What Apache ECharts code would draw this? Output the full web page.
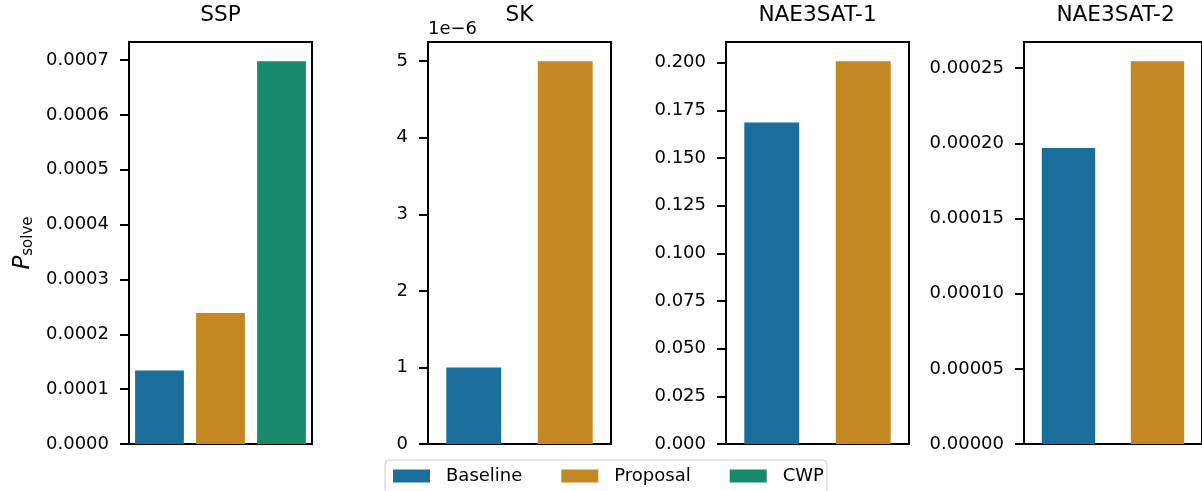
<!DOCTYPE html>
<html>
<head>
<meta charset="utf-8">
<title>P_solve by method</title>
<script src="https://cdn.jsdelivr.net/npm/echarts@6/dist/echarts.min.js"></script>
<style>
  html, body { margin: 0; padding: 0; background: #fff; }
  #chart { width: 1202px; height: 491px; }
</style>
</head>
<body>
<div id="chart"></div>
<script>
// Methods compared and their bar colours
const methods = ['Baseline', 'Proposal', 'CWP'];
const methodColors = ['#1a6e9c', '#c38822', '#178a6c'];

// Problem panels
const panelTitles = ['SSP', 'SK', 'NAE3SAT-1', 'NAE3SAT-2'];

// Success probability per method, one array per problem
const sspValues = [0.000134, 0.000239, 0.000698];
const skValues = [1e-6, 5e-6];
const nae1Values = [0.1686, 0.2008];
const nae2Values = [0.000197, 0.0002547];

// Y-axis tick values per panel
const sspTicks = [0, 0.0001, 0.0002, 0.0003, 0.0004, 0.0005, 0.0006, 0.0007];
const skTicks = [0, 1e-6, 2e-6, 3e-6, 4e-6, 5e-6];
const nae1Ticks = [0, 0.025, 0.05, 0.075, 0.1, 0.125, 0.15, 0.175, 0.2];
const nae2Ticks = [0, 0.00005, 0.0001, 0.00015, 0.0002, 0.00025];

const FONT = 'DejaVu Sans';

const panels = [
  { title: panelTitles[0], values: sspValues, ticks: sspTicks, fmt: v => v.toFixed(4), barWidth: '80%' },
  { title: panelTitles[1], values: skValues, ticks: skTicks, fmt: v => String(Math.round(v * 1e6)), barWidth: '60%', unit: '1e\u22126' },
  { title: panelTitles[2], values: nae1Values, ticks: nae1Ticks, fmt: v => v.toFixed(3), barWidth: '60%' },
  { title: panelTitles[3], values: nae2Values, ticks: nae2Ticks, fmt: v => v.toFixed(5), barWidth: '60%' }
];

const gridLeft = [129, 428, 726, 1024];
const gridWidth = 183;
const gridTop = 42;
const gridHeight = 402;

const grid = [], xAxis = [], yAxis = [], series = [], title = [];

panels.forEach((p, i) => {
  const cats = methods.slice(0, p.values.length);
  grid.push({
    left: gridLeft[i], top: gridTop, width: gridWidth, height: gridHeight,
    show: true, borderColor: '#000', borderWidth: 2, backgroundColor: 'transparent'
  });
  xAxis.push({
    type: 'category', gridIndex: i, data: cats, boundaryGap: true,
    axisLine: { show: false }, axisTick: { show: false }, axisLabel: { show: false },
    splitLine: { show: false }
  });
  yAxis.push({
    type: 'value', gridIndex: i, min: 0, max: Math.max(...p.values) * 1.05,
    axisLine: { show: false },
    splitLine: { show: false },
    axisTick: { show: true, length: 9, lineStyle: { color: '#000', width: 2 }, customValues: p.ticks },
    axisLabel: {
      show: true, margin: 20, color: '#000', fontFamily: FONT, fontSize: 18,
      customValues: p.ticks, formatter: v => p.fmt(v)
    },
    name: p.unit || '',
    nameLocation: 'end', nameGap: 4,
    nameTextStyle: { align: 'left', verticalAlign: 'bottom', fontFamily: FONT, fontSize: 18, color: '#000' }
  });
  title.push({
    text: p.title, left: gridLeft[i] + gridWidth / 2, top: 4, textAlign: 'center', padding: 0,
    textStyle: { fontFamily: FONT, fontSize: 21.6, fontWeight: 'normal', color: '#000' }
  });
  cats.forEach((m, k) => {
    const data = cats.map((c, j) => (j === k ? p.values[k] : '-'));
    series.push({
      type: 'bar', name: m, xAxisIndex: i, yAxisIndex: i, stack: 'panel' + i,
      barWidth: p.barWidth, data: data,
      itemStyle: { color: methodColors[k] },
      emphasis: { disabled: true }, animation: false
    });
  });
});

const chart = echarts.init(document.getElementById('chart'), null, { renderer: 'canvas' });
chart.setOption({
  animation: false,
  title: title,
  grid: grid,
  xAxis: xAxis,
  yAxis: yAxis,
  series: series,
  legend: {
    data: methods, left: 385, top: 460, orient: 'horizontal',
    icon: 'rect', itemWidth: 37, itemHeight: 13, itemGap: 39,
    padding: [7, 3, 12, 8],
    borderColor: '#cccccc', borderWidth: 1, borderRadius: 4, backgroundColor: '#fff',
    textStyle: { fontFamily: FONT, fontSize: 18, color: '#000', padding: [0, 0, 0, 11] },
    selectedMode: false
  },
  graphic: [{
    type: 'text', x: 23, y: 243, rotation: Math.PI / 2,
    style: {
      text: '{p|P}{s|solve}',
      align: 'center', verticalAlign: 'middle',
      rich: {
        p: { fontFamily: FONT, fontStyle: 'italic', fontSize: 23, lineHeight: 26, verticalAlign: 'middle', fill: '#000' },
        s: { fontFamily: FONT, fontSize: 15, lineHeight: 15, verticalAlign: 'bottom', fill: '#000' }
      }
    }
  }]
});
</script>
</body>
</html>
